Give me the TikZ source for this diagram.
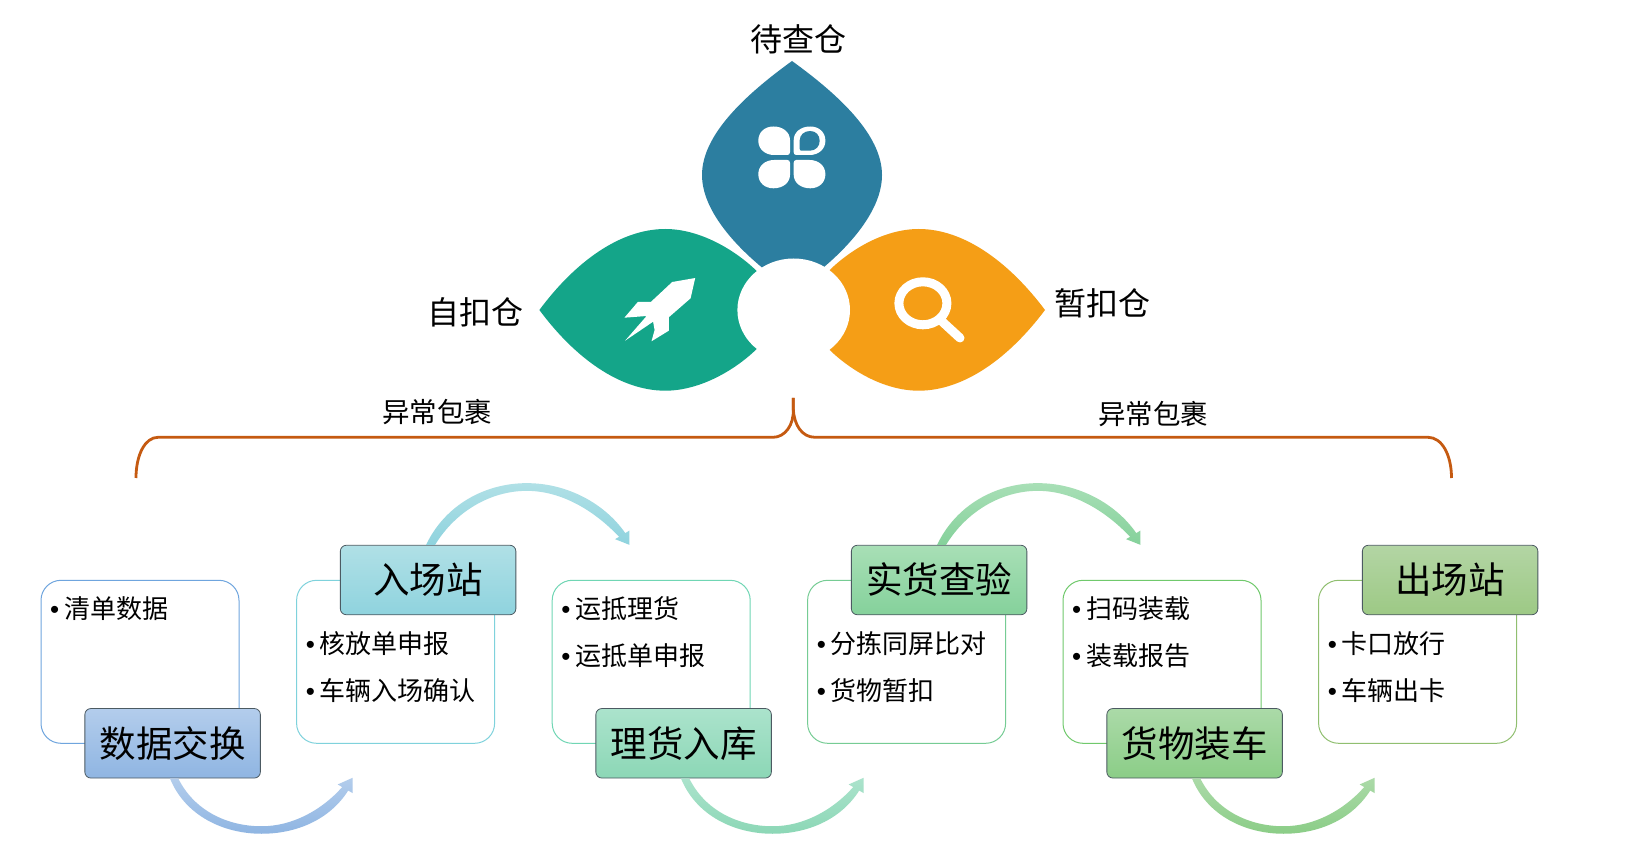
\documentclass[tikz,border=0pt]{standalone}
\usepackage{fontspec}
\setmainfont{Noto Sans CJK SC}
\newfontfamily\bulfont{Liberation Sans}
\definecolor{petalblue}{HTML}{2C7EA0}
\definecolor{petalgreen}{HTML}{14A589}
\definecolor{petalorange}{HTML}{F59E16}
\definecolor{bracecol}{HTML}{C55A11}
\definecolor{tagline}{HTML}{4C5A62}
\definecolor{ctA}{HTML}{B3CDEC}\definecolor{cbA}{HTML}{8FB5E2}\definecolor{clA}{HTML}{6FA5DE}
\definecolor{ctB}{HTML}{B0E0E6}\definecolor{cbB}{HTML}{8FD3DE}\definecolor{clB}{HTML}{7FD2DC}
\definecolor{ctC}{HTML}{ABE3CC}\definecolor{cbC}{HTML}{8CD7B6}\definecolor{clC}{HTML}{70D6B4}
\definecolor{ctD}{HTML}{A8DFB6}\definecolor{cbD}{HTML}{85D19B}\definecolor{clD}{HTML}{76CC94}
\definecolor{ctE}{HTML}{ABDAA8}\definecolor{cbE}{HTML}{8BCD87}\definecolor{clE}{HTML}{70C96C}
\definecolor{ctF}{HTML}{B3D5A4}\definecolor{cbF}{HTML}{9DC985}\definecolor{clF}{HTML}{90BF70}
\tikzset{
  card/.style={draw=#1,line width=1pt,fill=white,rounded corners=20pt,minimum width=198pt,minimum height=163pt,inner sep=0pt},
  tag/.style 2 args={draw=tagline,line width=.8pt,rounded corners=6pt,top color=#1,bottom color=#2,minimum width=175.5pt,minimum height=69.5pt,inner sep=0pt,font=\fontsize{36.5}{40}\selectfont},
  itemtext/.style={anchor=west,inner sep=0pt,text height=23pt,text depth=3pt,font=\fontsize{26}{30}\selectfont},
  biglabel/.style={inner sep=0pt,font=\fontsize{32}{35}\selectfont},
  smalllabel/.style={inner sep=0pt,font=\fontsize{27.5}{30}\selectfont},
  bracepath/.style={draw=bracecol,line width=2.8pt},
  iconfill/.style={fill=white,draw=none}
}
\newcommand{\bul}[1]{\makebox[14pt][l]{\bulfont •}#1}
\newcommand{\petalleaf}[5]{\begin{scope}[shift={(#1,#2)},xscale=#3,yscale=#4]
  \fill[#5] (0,.1) -- (0,.52) .. controls (0,.8) and (.22,1) .. (.52,1) .. controls (.8,1) and (1,.8) .. (1,.5) .. controls (1,.22) and (.8,0) .. (.5,0) -- (.08,0) .. controls (.03,0) and (0,.04) .. (0,.1) -- cycle;
\end{scope}}
\newcommand{\botarrow}[4]{\begin{scope}[shift={(#1.south)}]
  \shade[top color=#2,bottom color=#3,name=#4] (-2.6,0) .. controls (12.4,37) and (50.5,55.3) .. (89,55.3) .. controls (123.5,55.3) and (157,41.5) .. (175.6,12.1) -- (180.1,14.7) -- (180.1,-0.7) -- (165.1,6) -- (169.6,8.6) .. controls (149.4,31.5) and (120,47.8) .. (89,47.8) .. controls (54.5,47.8) and (21.4,32) .. (5.7,0) -- cycle;
\end{scope}}
\newcommand{\toparrow}[4]{\begin{scope}[shift={(#1.north)}]
  \shade[top color=#2,bottom color=#3,name=#4] (-2,0) .. controls (17,-40) and (57,-61.7) .. (98.7,-61.7) .. controls (139,-61.7) and (176.5,-41.5) .. (197.2,-11.7) -- (201.3,-14.3) -- (201.3,0) -- (187,-5.7) -- (191,-8) .. controls (168,-32.5) and (135,-54) .. (98.7,-54) .. controls (62,-54) and (27,-33) .. (7,0) -- cycle;
\end{scope}}
\begin{document}
\begin{tikzpicture}[x=1pt,y=-1pt]
\useasboundingbox (0,0) rectangle (1626,866);
\fill[white] (0,0) rectangle (1626,866);
% petals
\fill[petalblue] (792,61) .. controls (745,95) and (702,135) .. (702,175) .. controls (702,210) and (735,245) .. (761.4,267) -- (792,300) -- (824,267) .. controls (850,245) and (882,210) .. (882,175) .. controls (882,135) and (839,95) .. (792,61) -- cycle;
\fill[petalgreen] (539.4,310) .. controls (575,262) and (620,229) .. (665.3,229) .. controls (700,229) and (735,250) .. (756.4,270.7) -- (790,310) -- (756.4,349.3) .. controls (735,370) and (700,390.7) .. (665.3,390.7) .. controls (620,390.7) and (575,358) .. (539.4,310) -- cycle;
\fill[petalorange] (1045,310) .. controls (1009,262) and (964,229) .. (918.7,229) .. controls (884,229) and (850,250) .. (829,270.7) -- (795,310) -- (829,349.3) .. controls (850,370) and (884,390.7) .. (918.7,390.7) .. controls (964,390.7) and (1009,358) .. (1045,310) -- cycle;
\fill[white] (793.7,310) ellipse [x radius=56.3,y radius=51.5];
% clover icon
\petalleaf{790}{155}{-31.7}{-28.5}{white}
\petalleaf{790}{160}{-31.7}{28.3}{white}
\petalleaf{793.7}{160}{31.7}{28.3}{white}
\petalleaf{793.7}{155}{31.7}{-28.5}{white}
\petalleaf{799.7}{150.7}{20}{-19.7}{petalblue}
% rocket icon
\fill[iconfill] (695.2,278) -- (690.6,298.3) -- (668.8,317.3) -- (668.8,330.7) -- (651.5,341.3) -- (654.6,330) -- (653.1,321.7) -- (625.1,340.7) -- (646.6,316) -- (624.4,317.7) -- (637.8,302) -- (650.8,302) -- (672.2,282) -- cycle;
% magnifier icon
\draw[white,line width=9pt] (922.9,303.3) ellipse [x radius=24,y radius=21.5];
\draw[white,line width=9pt,line cap=round] (941,320.5) -- (960,338);
% petal labels
\node[biglabel] (qa) at (798,39.5) {待查仓};
\node[biglabel] (qb) at (475.5,312) {自扣仓};
\node[biglabel] (qc) at (1102,303.5) {暂扣仓};
\node[smalllabel] (ya) at (437,412) {异常包裹};
\node[smalllabel] (yb) at (1153.3,414) {异常包裹};
% brace
\coordinate (bracetip) at (793.3,398);
\coordinate (braceleft) at (136,478);
\coordinate (braceright) at (1451.5,478);
\draw[bracepath] (bracetip) -- (793.3,409) .. controls (794,425) and (785,437.3) .. (773,437.3) -- (158,437.3) .. controls (145,437.3) and (136,455) .. (braceleft);
\draw[bracepath] (bracetip) -- (793.3,409) .. controls (794,425) and (802,437.3) .. (815,437.3) -- (1428,437.3) .. controls (1442,437.3) and (1451.5,455) .. (braceright);
% cards
\node[card=clA] (c1) at (140,661.8) {};
\node[card=clB] (c2) at (395.6,661.8) {};
\node[card=clC] (c3) at (651.2,661.8) {};
\node[card=clD] (c4) at (906.6,661.8) {};
\node[card=clE] (c5) at (1162,661.8) {};
\node[card=clF] (c6) at (1417.6,661.8) {};
% tags
\node[tag={ctA}{cbA}] (t1) at (172.6,743.3) {数据交换};
\node[tag={ctB}{cbB}] (t2) at (428.1,580) {入场站};
\node[tag={ctC}{cbC}] (t3) at (683.6,743.3) {理货入库};
\node[tag={ctD}{cbD}] (t4) at (939.1,580) {实货查验};
\node[tag={ctE}{cbE}] (t5) at (1194.6,743.3) {货物装车};
\node[tag={ctF}{cbF}] (t6) at (1450.1,580) {出场站};
% items
\node[itemtext] (i1) at (50,608) {\bul{清单数据}};
\node[itemtext] (i2) at (305.6,643.5) {\bul{核放单申报}};
\node[itemtext] (i3) at (305.6,690) {\bul{车辆入场确认}};
\node[itemtext] (i4) at (561.2,608) {\bul{运抵理货}};
\node[itemtext] (i5) at (561.2,655) {\bul{运抵单申报}};
\node[itemtext] (i6) at (816.6,643.5) {\bul{分拣同屏比对}};
\node[itemtext] (i7) at (816.6,690) {\bul{货物暂扣}};
\node[itemtext] (i8) at (1072,608) {\bul{扫码装载}};
\node[itemtext] (i9) at (1072,655) {\bul{装载报告}};
\node[itemtext] (i10) at (1327.6,643.5) {\bul{卡口放行}};
\node[itemtext] (i11) at (1327.6,690) {\bul{车辆出卡}};
% arrows
\botarrow{t1}{ctA}{cbA}{a1}
\toparrow{t2}{ctB}{cbB}{a2}
\botarrow{t3}{ctC}{cbC}{a3}
\toparrow{t4}{ctD}{cbD}{a4}
\botarrow{t5}{ctE}{cbE}{a5}
\end{tikzpicture}
\end{document}
